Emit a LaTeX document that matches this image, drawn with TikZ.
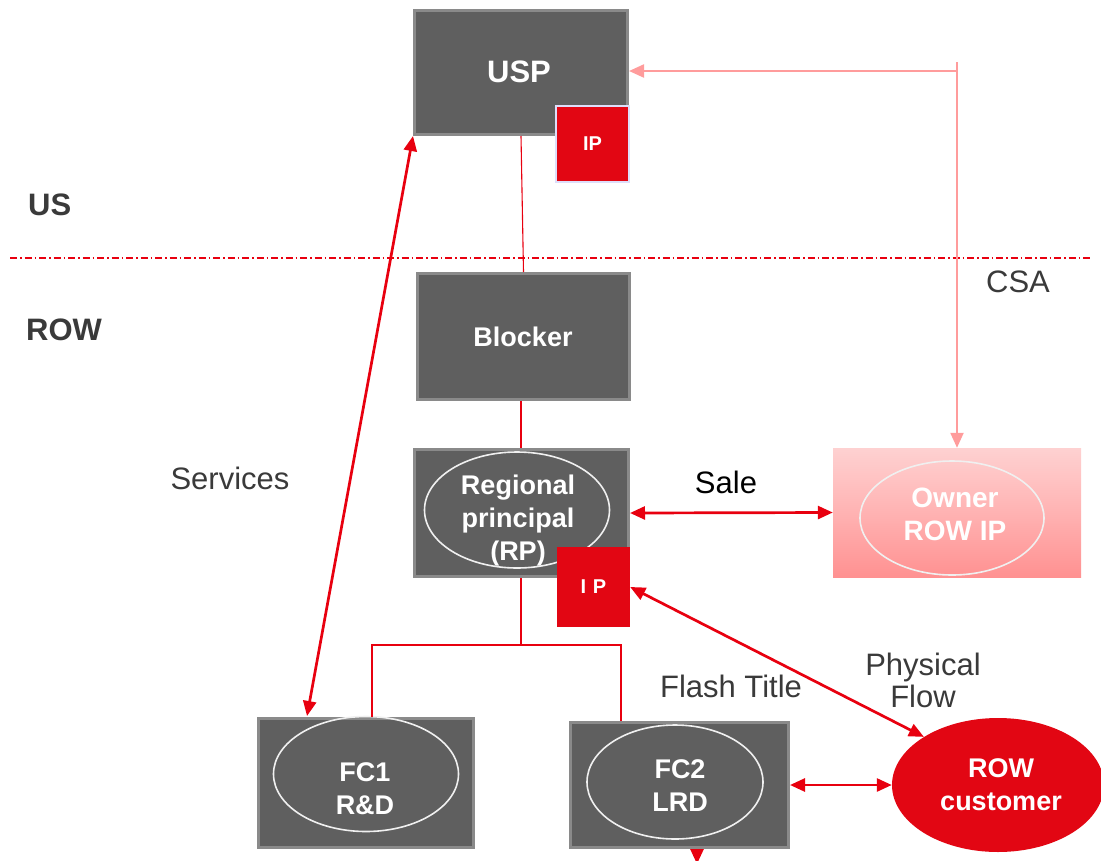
\documentclass[tikz,border=0pt]{standalone}
\usepackage{fontspec}
\setmainfont{Liberation Sans}
\usetikzlibrary{arrows.meta,calc,shapes.geometric}

\definecolor{boxgray}{HTML}{5F5F5F}
\definecolor{boxedge}{HTML}{8A8A8A}
\definecolor{ipred}{HTML}{E20613}
\definecolor{linkred}{HTML}{E8000F}
\definecolor{csapink}{HTML}{FF9C9C}
\definecolor{labelgray}{HTML}{3A3A3A}
\definecolor{ownA}{HTML}{FDEFEF}
\definecolor{ownB}{HTML}{FFB9B9}
\definecolor{ownC}{HTML}{FF8888}
\definecolor{ownD}{HTML}{FFA8A8}

% pink fade of the owner box: light at the top, deepest near the bottom
\pgfdeclareverticalshading{ownershade}{100bp}{%
  color(0bp)=(ownD); color(18bp)=(ownC); color(55bp)=(ownB); color(100bp)=(ownA)}

\tikzset{
  entity/.style={rectangle, fill=boxgray, draw=boxedge, line width=3pt, inner sep=0pt},
  ipbox/.style={rectangle, fill=ipred, inner sep=0pt, text=white,
    font=\fontsize{20}{24}\selectfont\bfseries},
  oval/.style={ellipse, draw=white!88!gray, line width=1.6pt, inner sep=0pt},
  boxtext/.style={text=white, align=center, inner sep=0pt,
    font=\fontsize{27}{33}\selectfont\bfseries},
  region/.style={text=labelgray, inner sep=0pt, font=\fontsize{31}{36}\selectfont\bfseries},
  note/.style={text=labelgray, inner sep=0pt, align=center, font=\fontsize{31}{32}\selectfont},
  tree/.style={draw=linkred, line width=1.1pt},
  flow/.style={draw=linkred, line width=2.7pt, {Triangle[length=15pt,width=13pt]}-{Triangle[length=15pt,width=13pt]}},
  csa/.style={draw=csapink, line width=2.2pt, -{Triangle[length=15pt,width=13pt]}},
}

\begin{document}
\begin{tikzpicture}[x=1pt, y=-1pt]
\useasboundingbox (0,0) rectangle (1101,860);

% US / ROW border
\draw[linkred, line width=1.1pt, dash pattern=on 7pt off 3pt on 1.5pt off 3pt] (10,258) -- (1090,258);
\node[region, anchor=west] (us) at (28,205) {US};
\node[region, anchor=west] (row) at (26,330) {ROW};

% entities
\node[entity, minimum width=213pt, minimum height=124pt] (usp) at (521,72.5) {};
\node[boxtext, font=\fontsize{31}{36}\selectfont\bfseries] (uspt) at (519,72) {USP};
\node[ipbox, draw=gray!25!blue!15, line width=1.5pt, minimum width=73pt, minimum height=76pt] (ip1) at (592.5,144) {IP};

\node[entity, minimum width=212pt, minimum height=126pt] (blk) at (523.5,336.5) {};
\node[boxtext] (blkt) at (523,337) {Blocker};

\node[entity, minimum width=214pt, minimum height=127pt] (rp) at (521.5,513) {};
\node[oval, minimum width=185pt, minimum height=116pt] (rpo) at (517,510) {};
\node[boxtext] (rpt) at (518,521) {Regional\\principal\\(RP)};
\node[ipbox, minimum width=73pt, minimum height=80pt] (ip2) at (593.5,587) {I\,\,P};

\node[rectangle, shading=ownershade, minimum width=248pt, minimum height=129pt, inner sep=0pt] (own) at (957,512.5) {};
\node[oval, minimum width=184pt, minimum height=114pt] (owno) at (952,518) {};
\node[boxtext, font=\fontsize{28}{33}\selectfont\bfseries] (ownt) at (955,514) {Owner\\ROW IP};

\node[entity, minimum width=215pt, minimum height=129pt] (fc1) at (366,783) {};
\node[oval, minimum width=185pt, minimum height=115pt] (fc1o) at (366,774) {};
\node[boxtext] (fc1t) at (365,789) {FC1\\R\&D};

\node[entity, minimum width=218pt, minimum height=125pt] (fc2) at (679.5,785) {};
\node[oval, minimum width=176pt, minimum height=114pt] (fc2o) at (675,782) {};
\node[boxtext] (fc2t) at (680,786) {FC2\\LRD};

\node[ellipse, fill=ipred, minimum width=212pt, minimum height=134pt, inner sep=0pt] (cust) at (998,785) {};
\node[boxtext] (custt) at (1001,785) {ROW\\customer};

% ownership tree
\coordinate (split) at (521,645);
\coordinate (fc1top) at (372,717);
\coordinate (fc2top) at (621,721);
\draw[tree] (usp.south) -- (blk.north);
\draw[tree] (blk.south -| 521,0) -- (rp.north -| 521,0);
\draw[tree] (rp.south -| 521,0) -- (split);
\draw[tree] (fc1top) |- (split) -| (fc2top);

% flows
\coordinate (svc) at (307,716);
\draw[flow] (usp.south west) -- (svc);
\draw[flow] (rp.east) -- (own.west);
\draw[flow] (ip2.east) -- (cust.147);
\draw[flow] (fc2.east) -- (cust.west);
\coordinate (down) at (697,864);
\draw[draw=linkred, line width=2.7pt, -{Triangle[length=15pt,width=13pt]}] (fc2.south -| down) -- (down);

% cost sharing
\coordinate (csatop) at (957,62);
\draw[csa] (csatop) -- (own.north -| csatop);
\draw[csa] (csatop |- 0,71) -- (usp.east |- 0,71);

% labels
\node[note] (svcl) at (230,478) {Services};
\node[note, text=black] (salel) at (726,482) {Sale};
\node[note] (csal) at (1018,282) {CSA};
\node[note] (flashl) at (731,686) {Flash Title};
\node[note] (physl) at (923,680) {Physical\\Flow};
\end{tikzpicture}
\end{document}
